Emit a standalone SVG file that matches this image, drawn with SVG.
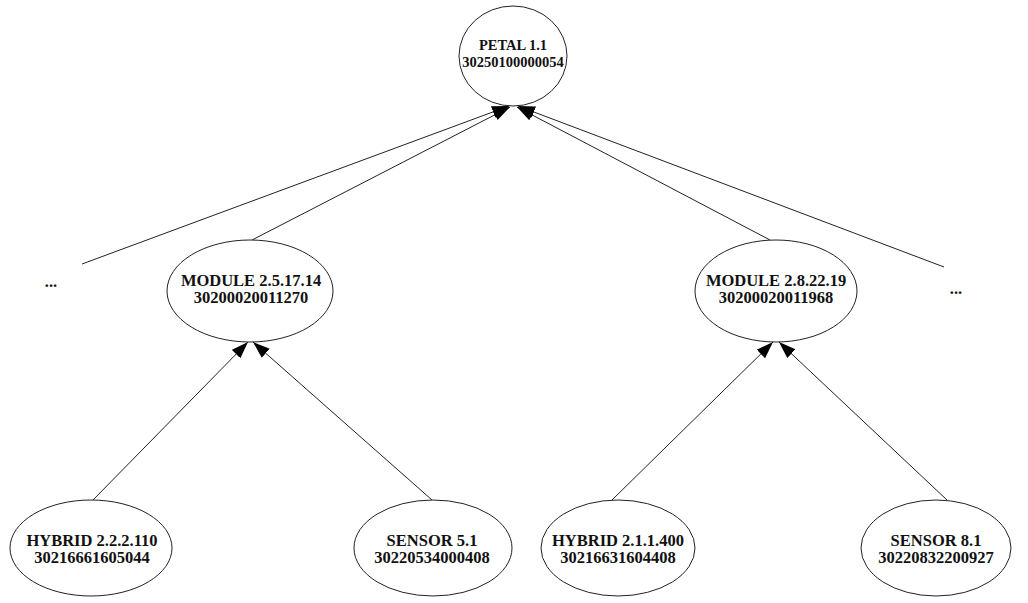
<svg xmlns="http://www.w3.org/2000/svg" width="1028" height="603" viewBox="0 0 1028 603">
<defs>
<style>
.n{fill:#fff;stroke:#222;stroke-width:1}
.t{font-family:"Liberation Serif",serif;font-weight:bold;font-size:16.5px;fill:#111;text-anchor:middle}
.tp{font-size:14.5px}
.e{stroke:#222;stroke-width:1;fill:none;marker-end:url(#ah)}
</style>
<marker id="ah" markerUnits="userSpaceOnUse" markerWidth="20" markerHeight="14" refX="17" refY="6" orient="auto">
<path d="M0,0 L17,6 L0,12 z" fill="#000"/>
</marker>
</defs>
<rect width="1028" height="603" fill="#fff"/>
<g id="edges">
<line class="e" x1="82" y1="264" x2="509" y2="106"/>
<line class="e" x1="252" y1="240" x2="510" y2="107"/>
<line class="e" x1="770" y1="240" x2="517" y2="107"/>
<line class="e" x1="944" y1="267" x2="518" y2="106"/>
<line class="e" x1="93" y1="500" x2="248" y2="342"/>
<line class="e" x1="432" y1="500" x2="253" y2="342"/>
<line class="e" x1="612" y1="500" x2="773" y2="342"/>
<line class="e" x1="947" y1="500" x2="779" y2="342"/>
</g>
<g id="petal">
<ellipse class="n" cx="513" cy="56" rx="54" ry="50"/>
<text class="t tp" x="513" y="50">PETAL 1.1</text>
<text class="t tp" x="513" y="67">30250100000054</text>
</g>
<g id="dots-left"><text class="t" x="51" y="287">...</text></g>
<g id="module-l">
<ellipse class="n" cx="250" cy="291" rx="83" ry="51"/>
<text class="t" x="251" y="286">MODULE 2.5.17.14</text>
<text class="t" x="251" y="303">30200020011270</text>
</g>
<g id="module-r">
<ellipse class="n" cx="776" cy="291" rx="81" ry="51"/>
<text class="t" x="776" y="286">MODULE 2.8.22.19</text>
<text class="t" x="776" y="303">30200020011968</text>
</g>
<g id="dots-right"><text class="t" x="956" y="294">...</text></g>
<g id="hybrid-l">
<ellipse class="n" cx="91" cy="548" rx="81" ry="48"/>
<text class="t" x="92" y="546">HYBRID 2.2.2.110</text>
<text class="t" x="92" y="563">30216661605044</text>
</g>
<g id="sensor-5">
<ellipse class="n" cx="433" cy="548" rx="79" ry="48"/>
<text class="t" x="432" y="546">SENSOR 5.1</text>
<text class="t" x="432" y="563">30220534000408</text>
</g>
<g id="hybrid-r">
<ellipse class="n" cx="618" cy="548" rx="77" ry="48"/>
<text class="t" x="618" y="546">HYBRID 2.1.1.400</text>
<text class="t" x="618" y="563">30216631604408</text>
</g>
<g id="sensor-8">
<ellipse class="n" cx="936" cy="548" rx="75" ry="48"/>
<text class="t" x="936" y="546">SENSOR 8.1</text>
<text class="t" x="936" y="563">30220832200927</text>
</g>
</svg>
